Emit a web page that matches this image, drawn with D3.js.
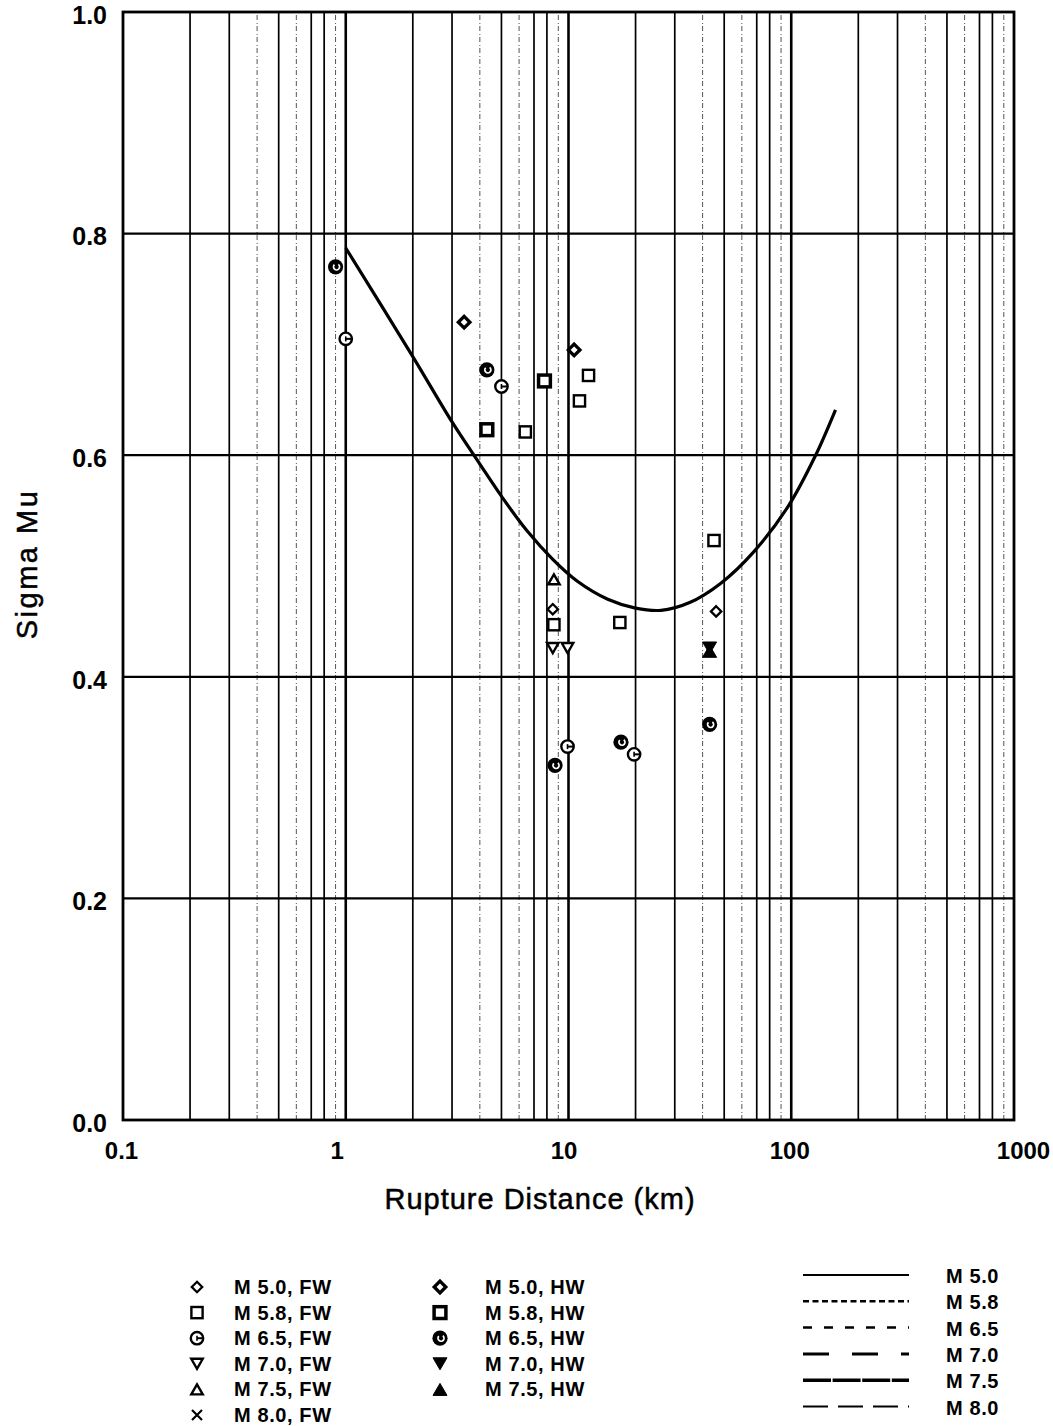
<!DOCTYPE html>
<html><head><meta charset="utf-8">
<script src="https://cdn.jsdelivr.net/npm/d3@7"></script>
<style>
body{margin:0;background:#fff}
svg{display:block}
text{font-family:"Liberation Sans",Arial,Helvetica,sans-serif;fill:#000}
</style>
</head><body>
<svg id="chart" width="1053" height="1426"></svg>
<script>
// ---------- data ----------
const xTickLabels = [0.1, 1, 10, 100, 1000];
const yTickLabels = [0.0, 0.2, 0.4, 0.6, 0.8, 1.0];

// M 5.0 model curve (rupture distance km, sigma mu)
const curveDist  = [1.0, 2.0, 3.0, 4.0, 5.0, 6.5, 8.5, 11, 15, 20, 26, 35, 48, 68, 97, 128, 158];
const curveSigma = [0.787, 0.689, 0.630, 0.592, 0.563, 0.532, 0.506, 0.486, 0.470, 0.462, 0.460, 0.467, 0.484, 0.513, 0.554, 0.599, 0.641];

// observed points: distance, sigma
const m50FW = [[8.5, 0.461], [46, 0.459]];
const m50HW = [[3.4, 0.720], [10.6, 0.695]];
const m58FW = [[12.3, 0.672], [11.2, 0.649], [6.4, 0.621], [8.6, 0.447], [17, 0.449], [45, 0.523]];
const m58HW = [[7.8, 0.667], [4.3, 0.623]];
const m65FW = [[1.0, 0.705], [5.0, 0.662], [9.9, 0.337], [19.7, 0.330]];
const m65HW = [[0.9, 0.770], [4.3, 0.677], [43, 0.357], [17.2, 0.341], [8.7, 0.320]];
const m70FW = [[8.5, 0.426], [9.9, 0.426]];
const m70HW = [[43, 0.426]];
const m75FW = [[8.6, 0.488]];
const m75HW = [[43, 0.423]];
const m80FW = [];

const markerLegend = [
  {label: "M 5.0, FW", shape: "diamond", hw: false, col: 0, row: 0},
  {label: "M 5.8, FW", shape: "square",  hw: false, col: 0, row: 1},
  {label: "M 6.5, FW", shape: "circle",  hw: false, col: 0, row: 2},
  {label: "M 7.0, FW", shape: "tridown", hw: false, col: 0, row: 3},
  {label: "M 7.5, FW", shape: "triup",   hw: false, col: 0, row: 4},
  {label: "M 8.0, FW", shape: "x",       hw: false, col: 0, row: 5},
  {label: "M 5.0, HW", shape: "diamond", hw: true,  col: 1, row: 0},
  {label: "M 5.8, HW", shape: "square",  hw: true,  col: 1, row: 1},
  {label: "M 6.5, HW", shape: "circle",  hw: true,  col: 1, row: 2},
  {label: "M 7.0, HW", shape: "tridown", hw: true,  col: 1, row: 3},
  {label: "M 7.5, HW", shape: "triup",   hw: true,  col: 1, row: 4}
];
const lineLegend = ["M 5.0", "M 5.8", "M 6.5", "M 7.0", "M 7.5", "M 8.0"];

// ---------- drawing ----------
const svg = d3.select("#chart");
svg.append("rect").attr("width", 1053).attr("height", 1426).attr("fill", "#fff");

const x = d3.scaleLog().domain([0.1, 1000]).range([123, 1014]);
const y = d3.scaleLinear().domain([0, 1]).range([1120, 12]);

// vertical grid
const vTicks = x.ticks().filter(v => v > 0.1 && v < 1000);
const gridG = svg.append("g");
vTicks.forEach(v => {
  const m = Math.round(v / Math.pow(10, Math.floor(Math.log10(v) + 1e-9)));
  const ln = gridG.append("line")
    .attr("x1", x(v)).attr("x2", x(v)).attr("y1", y(0)).attr("y2", y(1))
    .attr("stroke", "#000");
  if (m === 1) ln.attr("stroke-width", 2.6);
  else if (m === 4 || m === 6 || m === 9) ln.attr("stroke-width", 1).attr("stroke", "#555").attr("stroke-dasharray", "5,2,1,3");
  else ln.attr("stroke-width", 1.7);
});
// horizontal grid
[0.2, 0.4, 0.6, 0.8].forEach(v => {
  gridG.append("line").attr("x1", x(0.1)).attr("x2", x(1000)).attr("y1", y(v)).attr("y2", y(v))
    .attr("stroke", "#000").attr("stroke-width", 2.3);
});
// frame
svg.append("rect").attr("x", x(0.1)).attr("y", y(1)).attr("width", x(1000) - x(0.1)).attr("height", y(0) - y(1))
  .attr("fill", "none").attr("stroke", "#000").attr("stroke-width", 2.8);

// axes labels
const yAxis = svg.append("g").attr("transform", `translate(${x(0.1)},0)`)
  .call(d3.axisLeft(y).tickValues(yTickLabels).tickFormat(d3.format(".1f")).tickSize(0).tickPadding(16));
yAxis.select(".domain").remove();
yAxis.selectAll("text").attr("font-size", 25).attr("font-weight", "bold").attr("dy", "0.45em")
  .style("font-family", "'Liberation Sans', Arial, sans-serif");

const xNudge = [-2, -9, -5, -2, 9];
const xAxis = svg.append("g").attr("transform", `translate(0,${y(0)})`)
  .call(d3.axisBottom(x).tickValues(xTickLabels).tickFormat(d => d < 1 ? d.toFixed(1) : String(d)).tickSize(0).tickPadding(22));
xAxis.select(".domain").remove();
xAxis.selectAll("text").attr("font-size", 24).attr("font-weight", "bold").attr("dx", (d, i) => xNudge[i])
  .style("font-family", "'Liberation Sans', Arial, sans-serif");

svg.append("text").attr("x", 540).attr("y", 1209).attr("text-anchor", "middle")
  .attr("font-size", 29).attr("letter-spacing", 1).attr("stroke", "#000").attr("stroke-width", 0.5)
  .text("Rupture Distance (km)");
svg.append("text").attr("transform", "translate(37,564) rotate(-90)").attr("text-anchor", "middle")
  .attr("font-size", 29).attr("letter-spacing", 2.5).attr("stroke", "#000").attr("stroke-width", 0.5)
  .text("Sigma Mu");

// curve
const curvePts = curveDist.map((d, i) => [d, curveSigma[i]]);
svg.append("path").datum(curvePts)
  .attr("d", d3.line().x(d => x(d[0])).y(d => y(d[1])).curve(d3.curveCatmullRom.alpha(0.5)))
  .attr("fill", "none").attr("stroke", "#000").attr("stroke-width", 3.2);

// markers
function marker(sel, shape, hw, cx, cy) {
  const g = sel.append("g").attr("transform", `translate(${cx},${cy})`);
  if (shape === "diamond") {
    const r = hw ? 5.8 : 5.2, sw = hw ? 3.3 : 2.3;
    g.append("path").attr("d", `M0,${-r}L${r},0L0,${r}L${-r},0Z`)
      .attr("fill", "#fff").attr("stroke", "#000").attr("stroke-width", sw);
  } else if (shape === "square") {
    const s = hw ? 11.8 : 11.2, sw = hw ? 3.5 : 2.4;
    g.append("rect").attr("x", -s / 2).attr("y", -s / 2).attr("width", s).attr("height", s)
      .attr("fill", "#fff").attr("stroke", "#000").attr("stroke-width", sw);
  } else if (shape === "circle") {
    if (hw) {
      g.append("circle").attr("r", 7.6).attr("fill", "#000");
      g.append("path").attr("d", d3.arc()({innerRadius: 2.2, outerRadius: 3.9, startAngle: Math.PI * 0.2, endAngle: Math.PI * 1.75}))
        .attr("transform", "translate(1,0)").attr("fill", "#fff");
    } else {
      g.append("circle").attr("r", 6.2).attr("fill", "#fff").attr("stroke", "#000").attr("stroke-width", 2.4);
      g.append("line").attr("x1", 0).attr("x2", 6).attr("y1", 0).attr("y2", 0).attr("stroke", "#000").attr("stroke-width", 2);
      g.append("line").attr("x1", 0).attr("x2", 0).attr("y1", -2.5).attr("y2", 2.5).attr("stroke", "#000").attr("stroke-width", 1.6);
    }
  } else if (shape === "tridown" || shape === "triup") {
    const w = hw ? 14 : 11.5, h = hw ? 12 : 10, s = shape === "tridown" ? 1 : -1;
    g.append("path").attr("d", `M${-w / 2},${-s * h / 2}L${w / 2},${-s * h / 2}L0,${s * h / 2}Z`)
      .attr("fill", hw ? "#000" : "#fff").attr("stroke", "#000").attr("stroke-width", hw ? 1 : 2.4)
      .attr("stroke-linejoin", "miter");
  } else if (shape === "x") {
    g.append("path").attr("d", "M-5,-5L5,5M-5,5L5,-5").attr("stroke", "#000").attr("stroke-width", 2.2);
  }
}

const series = [
  [m50FW, "diamond", false], [m50HW, "diamond", true],
  [m58FW, "square", false], [m58HW, "square", true],
  [m65FW, "circle", false], [m65HW, "circle", true],
  [m70FW, "tridown", false], [m70HW, "tridown", true],
  [m75FW, "triup", false], [m75HW, "triup", true],
  [m80FW, "x", false]
];
const markG = svg.append("g");
series.forEach(([pts, shape, hw]) => pts.forEach(p => marker(markG, shape, hw, x(p[0]), y(p[1]))));

// marker legend
const legG = svg.append("g");
markerLegend.forEach(d => {
  const sx = d.col === 0 ? 197 : 440, tx = d.col === 0 ? 234 : 485;
  const cy = 1287 + d.row * 25.6;
  marker(legG, d.shape, d.hw, sx, cy);
  legG.append("text").attr("x", tx).attr("y", cy + 7).attr("font-size", 20).attr("font-weight", "bold")
    .attr("letter-spacing", 0.6).text(d.label);
});

// line legend
const dashes = [null, "6,3.5", "9,12", "26,23", "28,1.6", "25,10"];
const widths = [2, 2.5, 2.5, 3, 3.4, 2];
lineLegend.forEach((lab, i) => {
  const ly = 1275 + i * 26.3;
  const ln = legG.append("line").attr("x1", 803).attr("x2", 909).attr("y1", ly).attr("y2", ly)
    .attr("stroke", "#000").attr("stroke-width", widths[i]);
  if (dashes[i]) ln.attr("stroke-dasharray", dashes[i]);
  legG.append("text").attr("x", 946).attr("y", ly + 8).attr("font-size", 20).attr("font-weight", "bold")
    .attr("letter-spacing", 0.6).text(lab);
});
</script>
</body></html>
